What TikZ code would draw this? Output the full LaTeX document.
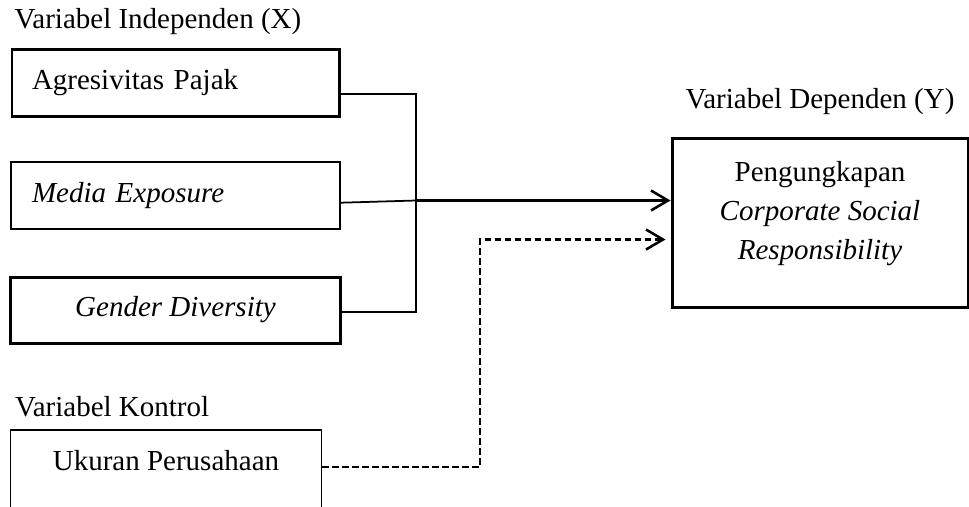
\documentclass[tikz,border=0pt]{standalone}
\usepackage{fontspec}
\setmainfont{Liberation Serif}
\usetikzlibrary{arrows.meta}
\usetikzlibrary{positioning}

\begin{document}
\begin{tikzpicture}[node distance=22.8mm,on grid,>={Straight Barb[length=3.4mm,width=4mm]},
		every node/.style={font=\fontsize{16.5}{22.2}\selectfont},
		thickbox/.style={rectangle,draw=black,line width=1.7pt,inner sep=0pt},
		thinbox/.style={rectangle,draw=black,line width=0.75pt,inner sep=0pt},
		lefttext/.style={text width=5.74cm,align=left},
		link/.style={line width=1.45pt}]
		\useasboundingbox (0,0) rectangle (19.38,-10.12);

		\node[thickbox,lefttext,minimum width=6.54cm,minimum height=1.34cm] (agresivitas) at (3.51,-1.65) {Agresivitas Pajak};
		\node[thinbox,lefttext,minimum width=6.58cm,minimum height=1.34cm] (media) [below=2.26cm of agresivitas] {\textit{Media Exposure}};
		\node[thickbox,minimum width=6.6cm,minimum height=1.32cm] (gender) [below=2.29cm of media] {\textit{Gender Diversity}};
		\node[thinbox,minimum width=6.22cm,minimum height=1.6cm,text height=0.4cm,text depth=0.4cm] (ukuran) [below=3.2cm of gender,xshift=-0.19cm] {Ukuran Perusahaan};
		\node[thickbox,minimum width=5.92cm,minimum height=3.38cm] (csr) at (16.4,-4.45) {};
		\node[align=center] (csrtext) at ([yshift=0.17cm]csr.center) {Pengungkapan\\\textit{Corporate Social}\\\textit{Responsibility}};

		\node[anchor=base west] (indep) at ([shift={(-0.04,0.38)}]agresivitas.north west) {Variabel Independen (X)};
		\node[anchor=base west] (kontrol) at ([shift={(-0.02,0.26)}]ukuran.north west) {Variabel Kontrol};
		\node[anchor=base] (dep) at ([yshift=0.56cm]csr.north) {Variabel Dependen (Y)};

		\coordinate (junc) at (8.32,-4.01);
		\coordinate (bend) at (9.6,-4.79);

		\draw[link] ([yshift=-0.23cm]agresivitas.east) -| (junc);
		\draw[line width=1pt] ([yshift=-0.144cm]media.east) -- (junc);
		\draw[link] ([yshift=-0.04cm]gender.east) -| (junc);
		\draw[link,->] (junc) -- (junc -| csr.west);
		\draw[link,dash pattern=on 0.13cm off 0.07cm,->,shorten >=0.1cm] ([yshift=0.06cm]ukuran.east) -| (bend) -- (bend -| csr.west);
\end{tikzpicture}
\end{document}
